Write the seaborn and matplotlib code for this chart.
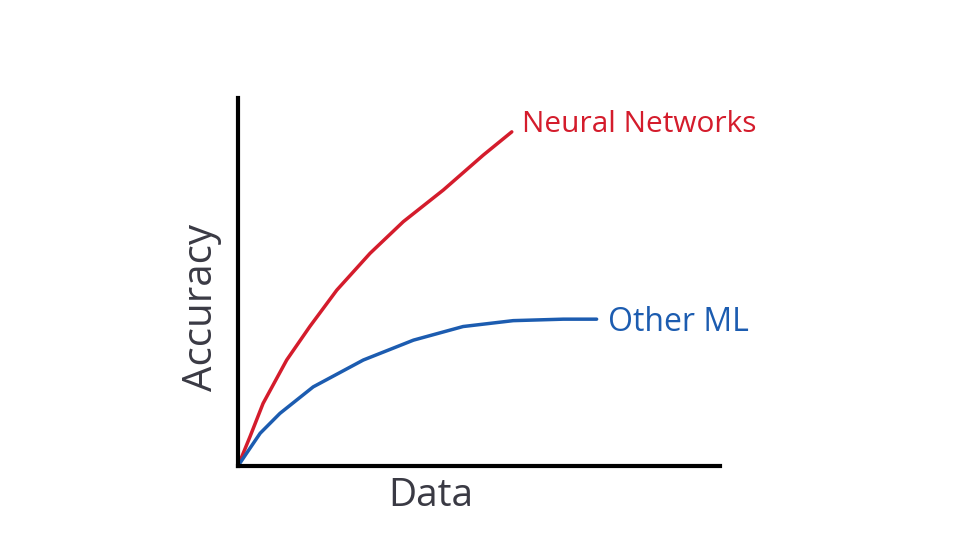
import numpy as np
import pandas as pd
import matplotlib
matplotlib.use("Agg")
import matplotlib.pyplot as plt
import seaborn as sns

# Data (arbitrary units, 0-100)
nn_x = [0, 2.5, 5.2, 10.1, 14.9, 20.5, 27.4, 34.3, 42.6, 50.9, 56.8]
nn_y = [0, 8.0, 17.0, 28.8, 37.9, 47.8, 57.8, 66.4, 75.0, 84.5, 90.8]
ml_x = [0, 1.8, 4.6, 8.7, 15.6, 26.0, 36.4, 46.7, 57.1, 67.5, 74.4]
ml_y = [0, 3.5, 8.9, 14.3, 21.5, 28.8, 34.2, 37.9, 39.5, 39.9, 39.9]

df = pd.concat([
    pd.DataFrame({"Data": nn_x, "Accuracy": nn_y, "Model": "Neural Networks"}),
    pd.DataFrame({"Data": ml_x, "Accuracy": ml_y, "Model": "Other ML"}),
])

sns.set_style("white")
plt.rcParams['font.family'] = ['Open Sans', 'DejaVu Sans']

red = "#d41c2c"
blue = "#1c5cb0"
ink = "#3a3a44"

fig = plt.figure(figsize=(9.79, 5.51), dpi=100)
ax = fig.add_axes([238 / 979, 85 / 551, 482 / 979, 368 / 551])

sns.lineplot(data=df, x="Data", y="Accuracy", hue="Model",
             palette={"Neural Networks": red, "Other ML": blue},
             linewidth=2.5, legend=False, ax=ax)

ax.set_xlim(0, 100)
ax.set_ylim(0, 100)
ax.set_xticks([])
ax.set_yticks([])
sns.despine(ax=ax)
for s in ["left", "bottom"]:
    ax.spines[s].set_linewidth(3)
    ax.spines[s].set_color("black")

ax.text(58.9, 92.9, "Neural Networks", color=red, fontsize=21.5, va="center", ha="left")
ax.text(76.8, 39.1, "Other ML", color=blue, fontsize=23, va="center", ha="left")

ax.set_xlabel("Data", fontsize=28, color=ink)
ax.set_ylabel("Accuracy", fontsize=29, color=ink)
ax.xaxis.set_label_coords(0.40, -0.03)
ax.yaxis.set_label_coords(-0.033, 0.43)

fig.savefig("out.png", dpi=100)
